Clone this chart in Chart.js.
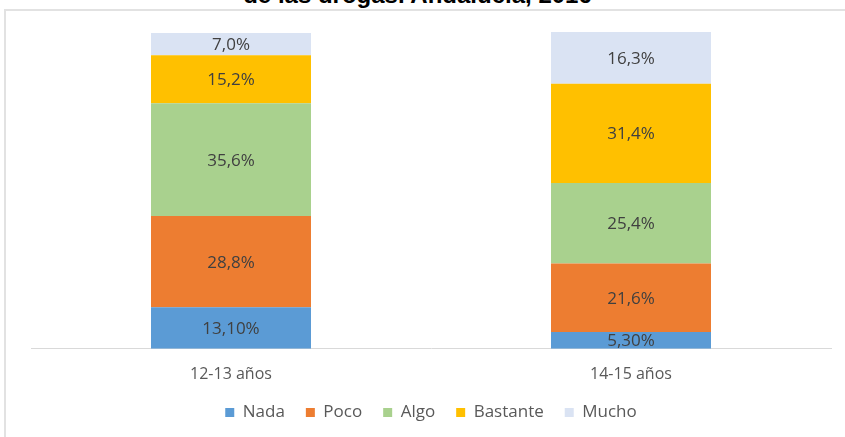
<!DOCTYPE html>
<html>
<head>
<meta charset="utf-8">
<script src="https://cdn.jsdelivr.net/npm/chart.js@4"></script>
<style>
  html, body { margin: 0; padding: 0; background: #fff; overflow: hidden; }
  #wrap { position: relative; width: 845px; height: 437px; }
  #marco { position: absolute; left: 4px; top: 9px; width: 900px; height: 500px;
           border: 2px solid #e2e2e2; box-sizing: border-box; }
  #titulo { position: absolute; left: 0; width: 835px; top: -19px; text-align: center;
            font: bold 24px "Liberation Sans", Arial, sans-serif; color: #000; white-space: nowrap; }
  canvas { position: absolute; left: 0; top: 0; }
</style>
</head>
<body>
<div id="wrap">
  <div id="marco"></div>
  <div id="titulo">de las drogas. Andalucía, 2016</div>
  <canvas id="graficaRiesgo" width="845" height="437"></canvas>
</div>
<script>
// Datos
const categorias = ['12-13 años', '14-15 años'];
const nada = [13.1, 5.3];
const poco = [28.8, 21.6];
const algo = [35.6, 25.4];
const bastante = [15.2, 31.4];
const mucho = [7.0, 16.3];

// Etiquetas de porcentaje dentro de cada tramo
const etiquetasBarras = {
    id: 'etiquetasBarras',
    afterDatasetsDraw(chart) {
        const ctx = chart.ctx;
        ctx.save();
        ctx.font = '17px "Open Sans", sans-serif';
        ctx.fillStyle = '#404040';
        ctx.textAlign = 'center';
        ctx.textBaseline = 'middle';
        chart.data.datasets.forEach((ds, i) => {
            const meta = chart.getDatasetMeta(i);
            meta.data.forEach((bar, j) => {
                const texto = ds.data[j].toFixed(ds.decimales).replace('.', ',') + '%';
                ctx.fillText(texto, bar.x, (bar.y + bar.base) / 2 + 1);
            });
        });
        ctx.restore();
    }
};

const ctx = document.getElementById('graficaRiesgo').getContext('2d');
new Chart(ctx, {
    type: 'bar',
    data: {
        labels: categorias,
        datasets: [
            { label: 'Nada', data: nada, backgroundColor: '#5b9bd5', decimales: 2 },
            { label: 'Poco', data: poco, backgroundColor: '#ed7d31', decimales: 1 },
            { label: 'Algo', data: algo, backgroundColor: '#a9d18e', decimales: 1 },
            { label: 'Bastante', data: bastante, backgroundColor: '#ffc000', decimales: 1 },
            { label: 'Mucho', data: mucho, backgroundColor: '#dae3f3', decimales: 1 }
        ]
    },
    options: {
        responsive: false,
        animation: false,
        layout: { padding: { left: 31, right: 14, top: 32, bottom: 6 } },
        datasets: { bar: { categoryPercentage: 1, barPercentage: 0.4 } },
        plugins: {
            legend: {
                position: 'bottom',
                labels: {
                    boxWidth: 9, boxHeight: 9, padding: 21,
                    color: '#595959',
                    font: { family: '"Open Sans", sans-serif', size: 17 }
                }
            },
            tooltip: { enabled: false }
        },
        scales: {
            x: {
                stacked: true,
                grid: { display: false, drawTicks: false },
                border: { display: true, color: '#d9d9d9', width: 1 },
                ticks: { color: '#595959', padding: 16, font: { family: '"Open Sans", sans-serif', size: 16 } },
                afterFit(scale) { scale.height -= 17; }
            },
            y: {
                stacked: true,
                display: false,
                min: 0,
                max: 100
            }
        }
    },
    plugins: [etiquetasBarras]
});
</script>
</body>
</html>
